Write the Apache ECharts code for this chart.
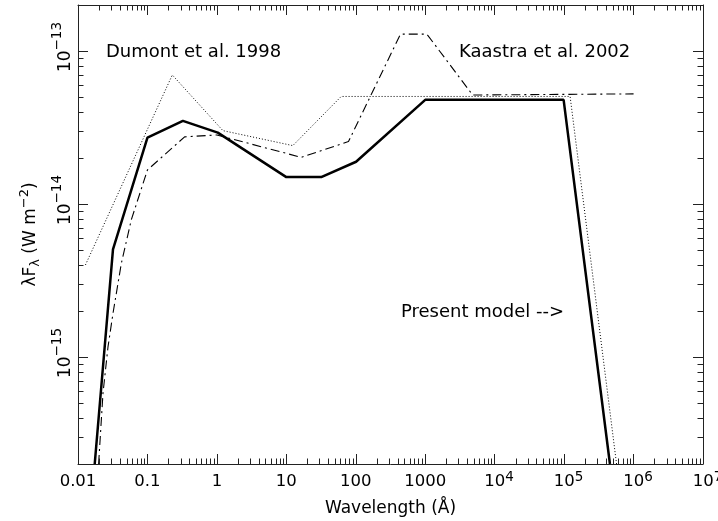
<!DOCTYPE html>
<html><head><meta charset="utf-8">
<script src="https://cdn.jsdelivr.net/npm/echarts@6/dist/echarts.min.js"></script>
<style>html,body{margin:0;padding:0;background:#fff}#c{width:718px;height:521px}</style>
</head><body><div id="c"></div>
<script>
// ---- data (wavelength in Å, lambda*F_lambda in W m^-2) ----
const presentModel = [[0.0174,2e-16],[0.0319,5.06e-15],[0.1,2.72e-14],[0.324,3.5e-14],[1.03,2.93e-14],[10,1.5e-14],[31.8,1.5e-14],[101,1.89e-14],[1000,4.8e-14],[9.84e4,4.8e-14],[4.57e5,2e-16]];
const dumont1998 = [[0.0128,4.0e-15],[0.228,6.98e-14],[1.22,3.02e-14],[12.4,2.41e-14],[61.7,5.05e-14],[1.22e5,5.05e-14],[5.69e5,2e-16]];
const kaastra2002 = [[0.0198,2e-16],[0.0229,5.8e-16],[0.027,1.16e-15],[0.0319,1.93e-15],[0.0421,4.1e-15],[0.0586,7.9e-15],[0.1,1.67e-14],[0.343,2.75e-14],[1.0,2.83e-14],[16.4,2.02e-14],[78.5,2.56e-14],[440,1.29e-13],[1057,1.29e-13],[4820,5.16e-14],[1e6,5.25e-14]];
const xTickExponents = [-2,-1,0,1,2,3,4,5,6,7];
const xTickLabels = ['0.01','0.1','1','10','100','1000','10^4','10^5','10^6','10^7'];
const yTickExponents = [-15,-14,-13];
const yTickLabels = ['10^\u221215','10^\u221214','10^\u221213'];
const xRange = [0.01, 1e7];
const yRange = [2e-16, 2e-13];
const xTitle = 'Wavelength (\u00C5)';
const yTitle = '\u03BBF{sub|\u03BB} (W m{sup|\u22122})';
const notes = ['Dumont et al. 1998', 'Kaastra et al. 2002', 'Present model -->'];

const FONT = 'DejaVu Sans';
const INK = '#000';
const FRAME = '#222';

// minor (2..9 x 10^n) tick positions
const xMinor = [], yMinor = [];
for (let e = -2; e < 7; e++) for (let k = 2; k <= 9; k++) xMinor.push(k * Math.pow(10, e));
for (let e = -16; e < -12; e++) for (let k = 1; k <= 9; k++) {
  const v = k * Math.pow(10, e);
  if (k > 1 && v > yRange[0] * 1.0001 && v < yRange[1] * 0.9999) yMinor.push(v);
}
const minorData = xMinor.map(v => [v, yRange[0], 0]).concat(yMinor.map(v => [xRange[0], v, 1]));

function richify(lbl, base, sup) {
  if (lbl.indexOf('^') < 0) return '{' + base + '|' + lbl + '}';
  const p = lbl.split('^');
  return '{' + base + 'p|' + p[0] + '}{' + sup + '|' + p[1] + '}';
}
function expOf(v) {
  const l = Math.log10(v), e = Math.round(l);
  return Math.abs(l - e) < 1e-6 ? e : null;
}

const chart = echarts.init(document.getElementById('c'), null, {renderer: 'canvas'});
const tickLine = {color: FRAME, width: 1};
const axisLine = {show: true, onZero: false, lineStyle: {color: FRAME, width: 1}};

const option = {
  animation: false,
  backgroundColor: '#fff',
  grid: {left: 78, right: 15, top: 5, bottom: 57, containLabel: false, outerBoundsMode: 'none'},
  xAxis: [
    {
      type: 'log', logBase: 10, min: xRange[0], max: xRange[1], position: 'bottom',
      axisLine: axisLine, splitLine: {show: false},
      axisTick: {show: true, inside: true, length: 10, lineStyle: tickLine},
      axisLabel: {
        margin: 6, color: INK,
        formatter: v => { const e = expOf(v); const i = xTickExponents.indexOf(e); return (e === null || i < 0) ? '' : richify(xTickLabels[i], 'b', 's'); },
        rich: {
          b: {fontFamily: FONT, fontSize: 16.5, lineHeight: 17, padding: [7, 0, 0, 0], color: INK},
          bp: {fontFamily: FONT, fontSize: 16.5, lineHeight: 17, padding: [7, 0, 0, 9], color: INK},
          s: {fontFamily: FONT, fontSize: 13.5, lineHeight: 14, verticalAlign: 'top', color: INK}
        }
      },
      name: xTitle, nameLocation: 'middle', nameGap: 36, nameMoveOverlap: false,
      nameTextStyle: {fontFamily: FONT, fontSize: 17, color: INK}
    },
    {
      type: 'log', logBase: 10, min: xRange[0], max: xRange[1], position: 'top',
      axisLine: axisLine, splitLine: {show: false},
      axisTick: {show: true, inside: true, length: 10, lineStyle: tickLine},
      axisLabel: {show: false}
    }
  ],
  yAxis: [
    {
      type: 'log', logBase: 10, min: yRange[0], max: yRange[1], position: 'left',
      axisLine: axisLine, splitLine: {show: false},
      axisTick: {show: true, inside: true, length: 10, lineStyle: tickLine},
      axisLabel: {
        margin: 11, rotate: 90, color: INK, showMinLabel: false, showMaxLabel: false,
        formatter: v => { const e = expOf(v); const i = yTickExponents.indexOf(e); return (e === null || i < 0) ? '' : richify(yTickLabels[i], 'b', 's'); },
        rich: {
          bp: {fontFamily: FONT, fontSize: 17, lineHeight: 17, padding: [15, 0, 0, 8], color: INK},
          b: {fontFamily: FONT, fontSize: 17, lineHeight: 17, padding: [15, 0, 0, 0], color: INK},
          s: {fontFamily: FONT, fontSize: 13.5, lineHeight: 14, verticalAlign: 'top', color: INK}
        }
      },
      name: yTitle, nameLocation: 'middle', nameGap: 35, nameRotate: 90, nameMoveOverlap: false,
      nameTextStyle: {
        fontFamily: FONT, fontSize: 17, color: INK,
        rich: {
          sub: {fontFamily: FONT, fontSize: 13, color: INK, padding: [10, 0, 0, 0]},
          sup: {fontFamily: FONT, fontSize: 13, color: INK, padding: [0, 0, 12, 0]}
        }
      }
    },
    {
      type: 'log', logBase: 10, min: yRange[0], max: yRange[1], position: 'right',
      axisLine: axisLine, splitLine: {show: false},
      axisTick: {show: true, inside: true, length: 10, lineStyle: tickLine},
      axisLabel: {show: false}
    }
  ],
  series: [
    {
      name: 'Kaastra et al. 2002', type: 'line', data: kaastra2002, xAxisIndex: 0, yAxisIndex: 0,
      symbol: 'none', clip: true, z: 2,
      lineStyle: {color: INK, width: 1.1, type: [9, 4, 2, 4]}
    },
    {
      name: 'Dumont et al. 1998', type: 'line', data: dumont1998, xAxisIndex: 0, yAxisIndex: 0,
      symbol: 'none', clip: true, z: 2,
      lineStyle: {color: INK, width: 1, type: [1, 2]}
    },
    {
      name: 'Present model', type: 'line', data: presentModel, xAxisIndex: 0, yAxisIndex: 0,
      symbol: 'none', clip: true, z: 3,
      lineStyle: {color: INK, width: 2.5}
    },
    {
      type: 'custom', xAxisIndex: 0, yAxisIndex: 0, silent: true, clip: false, z: 5,
      data: minorData, encode: {x: 0, y: 1},
      renderItem: function (params, api) {
        const x = api.value(0), y = api.value(1), dir = api.value(2);
        const L = 5.5;
        const st = {stroke: FRAME, lineWidth: 1};
        if (dir === 0) {
          const b = api.coord([x, yRange[0]]), t = api.coord([x, yRange[1]]);
          const px = Math.round(b[0]) + 0.5;
          return {type: 'group', children: [
            {type: 'line', shape: {x1: px, y1: b[1], x2: px, y2: b[1] - L}, style: st},
            {type: 'line', shape: {x1: px, y1: t[1], x2: px, y2: t[1] + L}, style: st}
          ]};
        } else {
          const l = api.coord([xRange[0], y]), r = api.coord([xRange[1], y]);
          const py = Math.round(l[1]) + 0.5;
          return {type: 'group', children: [
            {type: 'line', shape: {x1: l[0], y1: py, x2: l[0] + L, y2: py}, style: st},
            {type: 'line', shape: {x1: r[0], y1: py, x2: r[0] - L, y2: py}, style: st}
          ]};
        }
      }
    }
  ],
  graphic: [
    {type: 'text', silent: true, style: {text: notes[0], x: 106, y: 52, fill: INK, fontFamily: FONT, fontSize: 18, align: 'left', verticalAlign: 'middle'}},
    {type: 'text', silent: true, style: {text: notes[1], x: 459, y: 52, fill: INK, fontFamily: FONT, fontSize: 18, align: 'left', verticalAlign: 'middle'}},
    {type: 'text', silent: true, style: {text: notes[2], x: 401, y: 312, fill: INK, fontFamily: FONT, fontSize: 18, align: 'left', verticalAlign: 'middle'}}
  ]
};
chart.setOption(option);
</script>
</body></html>
